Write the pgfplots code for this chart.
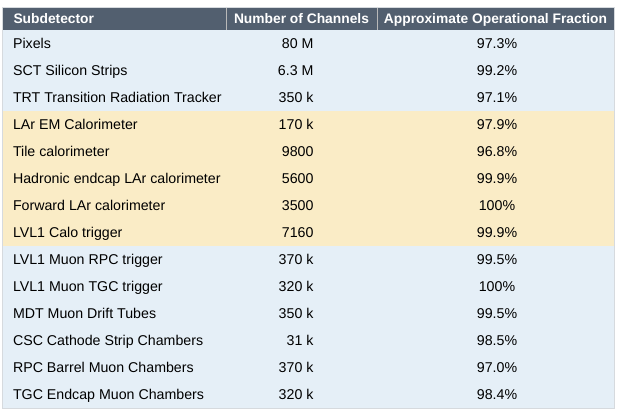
\documentclass[border=0pt]{standalone}
\usepackage{fontspec}
\setmainfont{Liberation Sans}
\usepackage{pgfplots}
\pgfplotsset{compat=1.18}
\definecolor{hdr}{RGB}{82,95,111}
\definecolor{rowblue}{RGB}{229,239,247}
\definecolor{rowyel}{RGB}{250,236,198}
\definecolor{sep}{RGB}{214,218,222}
\newcommand\bodyfont{\fontsize{14.2}{16}\selectfont}
\newcommand\headfont{\fontsize{13.8}{16}\selectfont\bfseries}

% row index, name, channels, fraction, fill colour
\newcommand\trow[5]{%
  \edef\ytop{\fpeval{30.5+27*#1}}%
  \edef\ybot{\fpeval{30.5+27*(#1+1)}}%
  \edef\ybase{\fpeval{30.5+27*#1+18.2}}%
  \edef\tmp{\noexpand\addplot[fill=#5,draw=none] coordinates {(2,\ytop) (614,\ytop) (614,\ybot) (2,\ybot)} -- cycle;
  \noexpand\addplot[sep,line width=1pt] coordinates {(2,\ybot) (614,\ybot)};
  \noexpand\node[anchor=base west,font=\noexpand\bodyfont] at (axis cs:9.5,\ybase) {#2};
  \noexpand\node[anchor=base east,font=\noexpand\bodyfont] at (axis cs:317,\ybase) {#3};
  \noexpand\node[anchor=base,font=\noexpand\bodyfont] at (axis cs:497,\ybase) {#4};}%
  \tmp
}

\begin{document}
\begin{tikzpicture}
\begin{axis}[
  width=622pt, height=419pt, scale only axis,
  xmin=0, xmax=622, ymin=0, ymax=419, y dir=reverse,
  axis lines=none, clip=false,
  every node/.append style={inner sep=0pt},
]
% header
\addplot[fill=hdr,draw=none] coordinates {(2,7) (614,7) (614,30.5) (2,30.5)} -- cycle;
\addplot[gray!55,line width=1pt] coordinates {(226,7) (226,30.5)};
\addplot[gray!55,line width=1pt] coordinates {(377,7) (377,30.5)};
\node[anchor=base west,text=white,font=\headfont] at (axis cs:10,23.5) {Subdetector};
\node[anchor=base,text=white,font=\headfont] at (axis cs:301.5,23.5) {Number of Channels};
\node[anchor=base,text=white,font=\headfont] at (axis cs:495.5,23.5) {Approximate Operational Fraction};
% body
\trow{0}{Pixels}{80 M}{97.3\%}{rowblue}
\trow{1}{SCT Silicon Strips}{6.3 M}{99.2\%}{rowblue}
\trow{2}{TRT Transition Radiation Tracker}{350 k}{97.1\%}{rowblue}
\trow{3}{LAr EM Calorimeter}{170 k}{97.9\%}{rowyel}
\trow{4}{Tile calorimeter}{9800}{96.8\%}{rowyel}
\trow{5}{Hadronic endcap LAr calorimeter}{5600}{99.9\%}{rowyel}
\trow{6}{Forward LAr calorimeter}{3500}{100\%}{rowyel}
\trow{7}{LVL1 Calo trigger}{7160}{99.9\%}{rowyel}
\trow{8}{LVL1 Muon RPC trigger}{370 k}{99.5\%}{rowblue}
\trow{9}{LVL1 Muon TGC trigger}{320 k}{100\%}{rowblue}
\trow{10}{MDT Muon Drift Tubes}{350 k}{99.5\%}{rowblue}
\trow{11}{CSC Cathode Strip Chambers}{31 k}{98.5\%}{rowblue}
\trow{12}{RPC Barrel Muon Chambers}{370 k}{97.0\%}{rowblue}
\trow{13}{TGC Endcap Muon Chambers}{320 k}{98.4\%}{rowblue}
% outer border
\addplot[sep,line width=0.8pt] coordinates {(2,7) (614,7) (614,408.5) (2,408.5)} -- cycle;
% invisible corner points fix the page size
\addplot[draw=none] coordinates {(0,0) (622,419)};
\end{axis}
\end{tikzpicture}
\end{document}
